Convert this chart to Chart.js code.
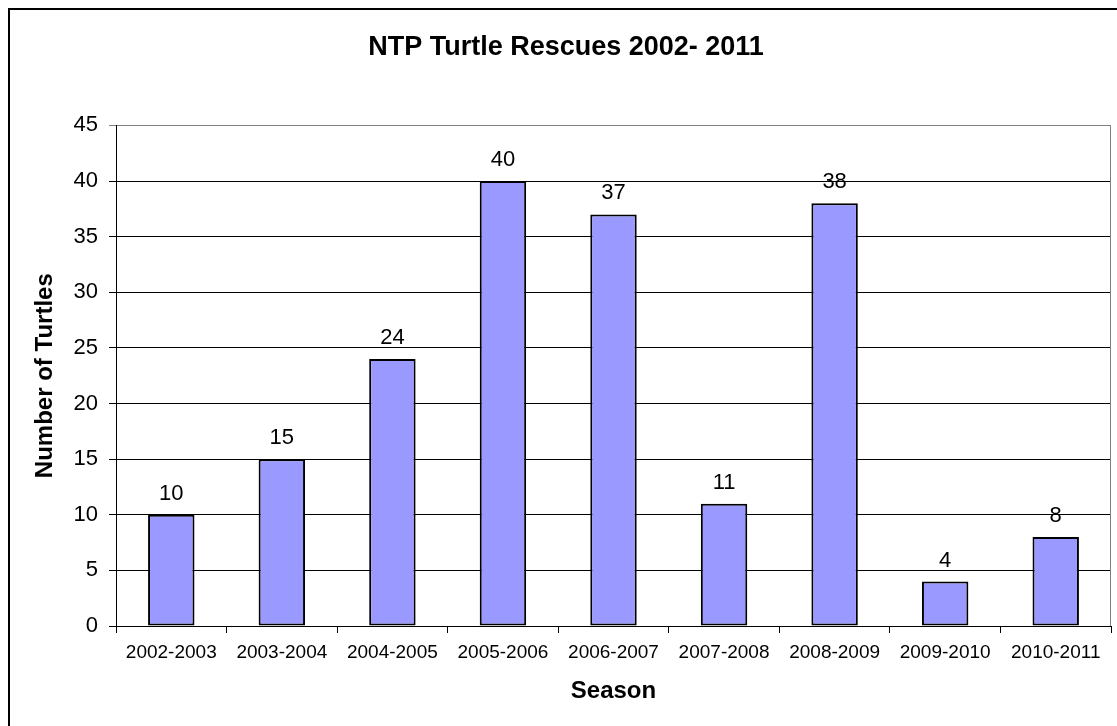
<!DOCTYPE html>
<html>
<head>
<meta charset="utf-8">
<title>NTP Turtle Rescues 2002- 2011</title>
<script src="https://cdn.jsdelivr.net/npm/chart.js@4.4.1/dist/chart.umd.min.js"></script>
<style>
  html, body { margin: 0; padding: 0; background: #ffffff; }
  #wrap { width: 1117px; height: 726px; position: relative; }
</style>
</head>
<body>
<div id="wrap"><canvas id="chart" width="1117" height="726"></canvas></div>
<script>
// Rescued turtles per nesting season
const seasons = ['2002-2003', '2003-2004', '2004-2005', '2005-2006', '2006-2007',
                 '2007-2008', '2008-2009', '2009-2010', '2010-2011'];
const rescues = [10, 15, 24, 40, 37, 11, 38, 4, 8];

const yMin = 0;
const yMax = 45;
const yStep = 5;

const FONT = '"Liberation Sans", Arial, Helvetica, sans-serif';

// White page with the outer frame line along the top and left edges
const framePlugin = {
  id: 'frame',
  beforeDraw(chart) {
    const ctx = chart.ctx;
    ctx.save();
    ctx.fillStyle = '#ffffff';
    ctx.fillRect(0, 0, chart.width, chart.height);
    ctx.fillStyle = '#000000';
    ctx.fillRect(8, 8, chart.width, 2);
    ctx.fillRect(8, 8, 2, chart.height);
    ctx.restore();
  }
};

// Grey right edge of the plot area
const plotEdgePlugin = {
  id: 'plotEdge',
  beforeDatasetsDraw(chart) {
    const { ctx, chartArea } = chart;
    ctx.save();
    ctx.strokeStyle = '#808080';
    ctx.lineWidth = 1;
    ctx.beginPath();
    ctx.moveTo(Math.round(chartArea.right) - 0.5, chartArea.top);
    ctx.lineTo(Math.round(chartArea.right) - 0.5, chartArea.bottom);
    ctx.stroke();
    ctx.restore();
  }
};

// Value written above each bar
const valueLabelPlugin = {
  id: 'valueLabels',
  afterDatasetsDraw(chart) {
    const ctx = chart.ctx;
    const meta = chart.getDatasetMeta(0);
    const values = chart.data.datasets[0].data;
    ctx.save();
    ctx.font = '22px ' + FONT;
    ctx.fillStyle = '#000000';
    ctx.textAlign = 'center';
    ctx.textBaseline = 'alphabetic';
    meta.data.forEach((bar, i) => {
      ctx.fillText(String(values[i]), bar.x, bar.y - 15);
    });
    ctx.restore();
  }
};

new Chart(document.getElementById('chart'), {
  type: 'bar',
  data: {
    labels: seasons,
    datasets: [{
      label: 'Number of Turtles',
      data: rescues,
      backgroundColor: '#9999FF',
      borderColor: '#000000',
      borderWidth: 2,
      borderSkipped: false,
      categoryPercentage: 1.0,
      barPercentage: 0.42
    }]
  },
  options: {
    responsive: false,
    animation: false,
    devicePixelRatio: 1,
    layout: { padding: { left: 21, right: 6, top: 0, bottom: 0 } },
    plugins: {
      legend: { display: false },
      tooltip: { enabled: false },
      title: {
        display: true,
        text: 'NTP Turtle Rescues 2002- 2011',
        color: '#000000',
        font: { family: FONT, size: 27, weight: 'bold', lineHeight: 1.2 },
        padding: { top: 31, bottom: 62 }
      }
    },
    scales: {
      x: {
        offset: true,
        grid: {
          offset: true,
          drawOnChartArea: false,
          drawTicks: true,
          tickLength: 7,
          color: '#000000',
          lineWidth: 1
        },
        border: { display: true, color: '#000000', width: 1 },
        ticks: {
          color: '#000000',
          font: { family: FONT, size: 19 },
          padding: 8,
          maxRotation: 0,
          autoSkip: false
        },
        title: {
          display: true,
          text: 'Season',
          color: '#000000',
          font: { family: FONT, size: 24, weight: 'bold', lineHeight: 1.2 },
          padding: { top: 0, bottom: 20 }
        },
        afterFit(scale) { scale.height = 100; }
      },
      y: {
        min: yMin,
        max: yMax,
        grid: {
          color: (c) => (c.tick && c.tick.value === yMax) ? '#808080' : '#000000',
          lineWidth: 1,
          tickLength: 7,
          drawTicks: true
        },
        border: { display: true, color: '#000000', width: 1 },
        ticks: {
          stepSize: yStep,
          color: '#000000',
          font: { family: FONT, size: 22 },
          padding: 11
        },
        title: {
          display: true,
          text: 'Number of Turtles',
          color: '#000000',
          font: { family: FONT, size: 24, weight: 'bold', lineHeight: 1.2 },
          padding: { top: 10, bottom: 0 }
        },
        afterFit(scale) { scale.width = 95; }
      }
    }
  },
  plugins: [framePlugin, plotEdgePlugin, valueLabelPlugin]
});
</script>
</body>
</html>
